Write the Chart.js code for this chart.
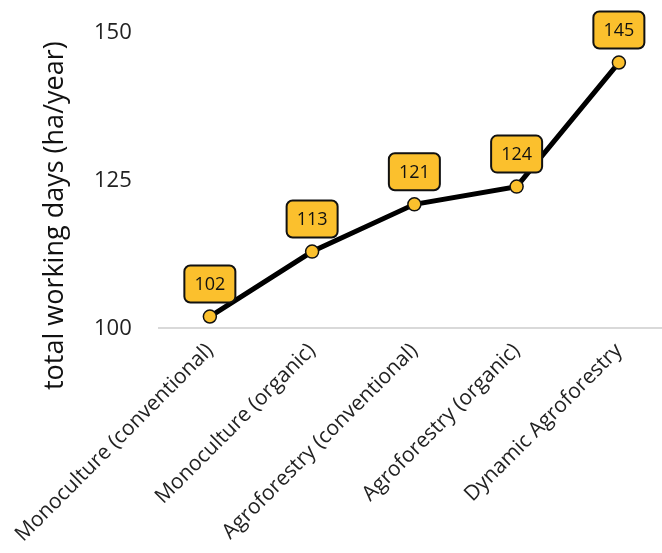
<!DOCTYPE html>
<html>
<head>
<meta charset="utf-8">
<script src="https://cdn.jsdelivr.net/npm/chart.js@4"></script>
<style>
  html, body { margin: 0; padding: 0; overflow: hidden; background: #fff; }
  #wrap { width: 662px; height: 553px; overflow: hidden; }
</style>
</head>
<body>
<div id="wrap"><canvas id="grafico" width="678" height="553"></canvas></div>
<script>
// --- DATOS ---
const sistemas = [
    'Monoculture (conventional)',
    'Monoculture (organic)',
    'Agroforestry (conventional)',
    'Agroforestry (organic)',
    'Dynamic Agroforestry'
];
const diasTrabajo = [102, 113, 121, 124, 145];
const ticksY = [100, 125, 150];
const tituloY = 'total working days (ha/year)';

const amarillo = '#FBC02D';
const fuente = "'Open Sans', 'Noto Sans', sans-serif";

// etiquetas con caja amarilla sobre cada punto
const etiquetasPlugin = {
    id: 'etiquetas',
    afterDatasetsDraw(chart) {
        const ctx = chart.ctx;
        const meta = chart.getDatasetMeta(0);
        const valores = chart.data.datasets[0].data;
        ctx.save();
        meta.data.forEach((pt, i) => {
            const w = 51, h = 37;
            const x = pt.x - w / 2;
            const y = pt.y - 14 - h;
            ctx.beginPath();
            ctx.roundRect(x, y, w, h, 6);
            ctx.fillStyle = amarillo;
            ctx.fill();
            ctx.lineWidth = 2;
            ctx.strokeStyle = '#111';
            ctx.stroke();
            ctx.fillStyle = '#111';
            ctx.font = '18px ' + fuente;
            ctx.textAlign = 'center';
            ctx.textBaseline = 'middle';
            ctx.fillText(String(valores[i]), pt.x, y + h / 2 + 1);
        });
        ctx.restore();
    }
};

// título del eje Y (algo desplazado hacia abajo, como en el original)
const tituloPlugin = {
    id: 'tituloY',
    afterDraw(chart) {
        const ctx = chart.ctx;
        const area = chart.chartArea;
        ctx.save();
        ctx.translate(63, (area.top + area.bottom) / 2 + 35);
        ctx.rotate(-Math.PI / 2);
        ctx.fillStyle = '#111';
        ctx.font = '27px ' + fuente;
        ctx.textAlign = 'center';
        ctx.textBaseline = 'alphabetic';
        ctx.fillText(tituloY, 0, 0);
        ctx.restore();
    }
};

new Chart(document.getElementById('grafico').getContext('2d'), {
    type: 'line',
    data: {
        labels: sistemas,
        datasets: [{
            label: 'total working days',
            data: diasTrabajo,
            borderColor: '#000',
            borderWidth: 5,
            pointRadius: 6.5,
            pointBackgroundColor: amarillo,
            pointBorderColor: '#111',
            pointBorderWidth: 1.5,
            tension: 0
        }]
    },
    options: {
        responsive: false,
        animation: false,
        layout: { padding: { top: 33, left: 75, right: 0, bottom: 4 } },
        plugins: {
            legend: { display: false },
            tooltip: { enabled: false }
        },
        scales: {
            x: {
                offset: true,
                grid: { display: false },
                border: { display: true, color: '#d9d9d9', width: 2 },
                ticks: {
                    color: '#222',
                    font: { family: fuente, size: 21 },
                    minRotation: 45,
                    maxRotation: 45,
                    padding: 2
                }
            },
            y: {
                min: 100,
                max: 150,
                afterBuildTicks: (axis) => { axis.ticks = ticksY.map(v => ({ value: v })); },
                grid: { display: false },
                border: { display: false },
                ticks: {
                    color: '#222',
                    font: { family: fuente, size: 22 },
                    padding: 19
                },
                title: { display: false }
            }
        }
    },
    plugins: [etiquetasPlugin, tituloPlugin]
});
</script>
</body>
</html>
